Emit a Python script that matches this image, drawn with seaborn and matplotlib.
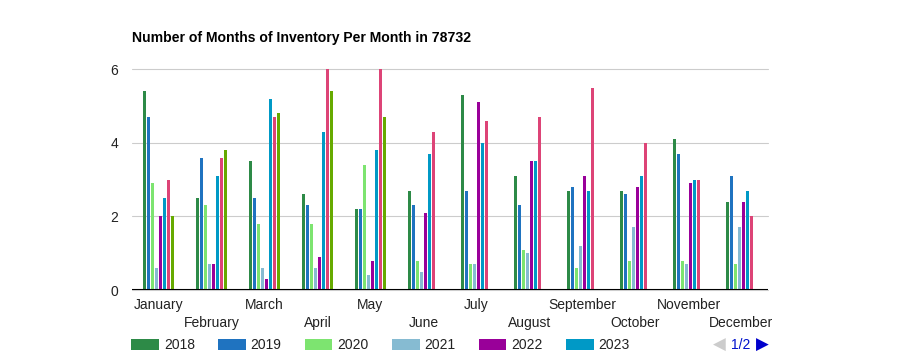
import numpy as np
import pandas as pd
import matplotlib
matplotlib.use('Agg')
import matplotlib.pyplot as plt
import matplotlib.transforms as mtransforms
import seaborn as sns

# ============================================================================
# DATA
# ============================================================================

months = ['January', 'February', 'March', 'April', 'May', 'June',
          'July', 'August', 'September', 'October', 'November', 'December']
years = ['2018', '2019', '2020', '2021', '2022', '2023', '2024', '2025']

v2018 = [5.4, 2.5, 3.5, 2.6, 2.2, 2.7, 5.3, 3.1, 2.7, 2.7, 4.1, 2.4]
v2019 = [4.7, 3.6, 2.5, 2.3, 2.2, 2.3, 2.7, 2.3, 2.8, 2.6, 3.7, 3.1]
v2020 = [2.9, 2.3, 1.8, 1.8, 3.4, 0.8, 0.7, 1.1, 0.6, 0.8, 0.8, 0.7]
v2021 = [0.6, 0.7, 0.6, 0.6, 0.4, 0.5, 0.7, 1.0, 1.2, 1.7, 0.7, 1.7]
v2022 = [2.0, 0.7, 0.3, 0.9, 0.8, 2.1, 5.1, 3.5, 3.1, 2.8, 2.9, 2.4]
v2023 = [2.5, 3.1, 5.2, 4.3, 3.8, 3.7, 4.0, 3.5, 2.7, 3.1, 3.0, 2.7]
v2024 = [3.0, 3.6, 4.7, 6.0, 6.0, 4.3, 4.6, 4.7, 5.5, 4.0, 3.0, 2.0]
v2025 = [2.0, 3.8, 4.8, 5.4, 4.7, np.nan, np.nan, np.nan, np.nan, np.nan, np.nan, np.nan]

colors = ['#2d8a47', '#1f73c0', '#7de470', '#86bbd2', '#990099', '#0099c6', '#dd4477', '#66aa00']

# long format table for seaborn
series = [v2018, v2019, v2020, v2021, v2022, v2023, v2024, v2025]
rows = []
for yr, vals in zip(years, series):
    for m, v in zip(months, vals):
        rows.append({'Month': m, 'Year': yr, 'Value': v})
df = pd.DataFrame(rows).dropna()

# ============================================================================
# PLOT
# ============================================================================

sns.set_style('white')
plt.rcParams['font.family'] = ['Liberation Sans', 'DejaVu Sans']
FS = 10

fig = plt.figure(figsize=(9, 3.6), dpi=100)
ax = fig.add_axes([132 / 900, 1 - 290 / 360, 636 / 900, (290 - 69.3) / 360])

sns.barplot(data=df, x='Month', y='Value', hue='Year', order=months, hue_order=years,
            palette=dict(zip(years, colors)), width=0.604, gap=0.25,
            errorbar=None, ax=ax, saturation=1, linewidth=0)

ax.set_ylim(0, 6)
ax.set_yticks([0, 2, 4, 6])
ax.grid(axis='y', color='#cccccc', linewidth=0.8)
for gl in ax.get_ygridlines():
    gl.set_clip_on(False)
ax.set_axisbelow(True)
ax.axhline(0, color='black', linewidth=1.5, zorder=5)
for s in ax.spines.values():
    s.set_visible(False)
ax.tick_params(axis='y', length=0, pad=10, labelsize=FS, labelcolor='#222222')
ax.tick_params(axis='x', length=0, labelbottom=False)
ax.set_xlabel('')
ax.set_ylabel('')

# staggered month labels
trans = mtransforms.blended_transform_factory(ax.transData, fig.transFigure)
for i, m in enumerate(ax.get_xticks()):
    y = 1 - 305 / 360 if i % 2 == 0 else 1 - 323 / 360
    ax.text(m, y, months[i], transform=trans, ha='center', va='center',
            fontsize=FS, color='#222222')

fig.text(132 / 900, 1 - 38 / 360, 'Number of Months of Inventory Per Month in 78732',
         fontsize=10.1, fontweight='bold', color='#000000', ha='left', va='center')

# legend (first page only, 6 entries)
handles, labels = ax.get_legend_handles_labels()
ax.get_legend().remove()
fig.legend(handles[:6], labels[:6], loc='center left',
           bbox_to_anchor=(131 / 900, 1 - 345 / 360), ncol=6, frameon=False,
           fontsize=FS, handlelength=2.01, handleheight=0.86, handletextpad=0.36,
           columnspacing=1.65, borderpad=0, borderaxespad=0, labelcolor='#222222')

# pager
fig.text(719 / 900, 1 - 345 / 360, '◀', fontsize=12, color='#cccccc', ha='center', va='center')
fig.text(741 / 900, 1 - 345 / 360, '1/2', fontsize=FS, color='#0011cc', ha='center', va='center')
fig.text(762 / 900, 1 - 345 / 360, '▶', fontsize=12, color='#0000cc', ha='center', va='center')

fig.savefig('out.png', dpi=100)
